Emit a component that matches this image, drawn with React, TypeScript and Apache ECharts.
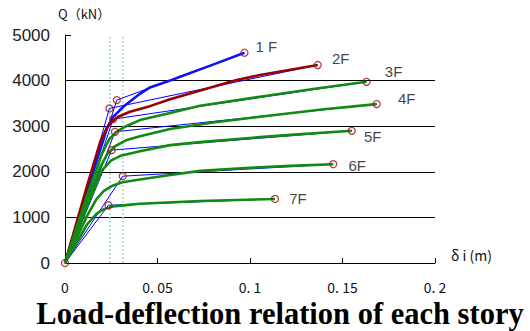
import React, { useEffect, useRef } from "react";
import * as echarts from "echarts";

// ---- data ----
const storyNames = ["1 F", "2F", "3F", "4F", "5F", "6F", "7F"];

const curve1F = [[0, 0], [0.012, 1600], [0.02, 2650], [0.0225, 2950], [0.0261, 3206], [0.0315, 3426], [0.0405, 3710], [0.0459, 3850], [0.0568, 4000], [0.0622, 4084], [0.08, 4350], [0.097, 4611]];
const curve2F = [[0, 0], [0.012, 1700], [0.019, 2650], [0.0225, 2950], [0.0243, 3060], [0.0288, 3206], [0.0351, 3316], [0.0459, 3440], [0.0568, 3590], [0.0928, 4012], [0.1054, 4122], [0.1366, 4341]];
const curve3F = [[0, 0], [0.012, 1480], [0.02, 2400], [0.024, 2720], [0.028, 2880], [0.033, 3000], [0.0405, 3134], [0.0568, 3290], [0.073, 3450], [0.1054, 3645], [0.135, 3820], [0.163, 3973]];
const curve4F = [[0, 0], [0.012, 1350], [0.019, 2100], [0.023, 2400], [0.027, 2560], [0.033, 2690], [0.0405, 2780], [0.0568, 2940], [0.08, 3080], [0.1054, 3206], [0.14, 3370], [0.1685, 3485]];
const curve5F = [[0, 0], [0.012, 1250], [0.02, 2030], [0.025, 2250], [0.03, 2350], [0.0405, 2450], [0.0568, 2585], [0.073, 2650], [0.1054, 2760], [0.122, 2810], [0.155, 2899]];
const curve6F = [[0, 0], [0.012, 1040], [0.017, 1400], [0.021, 1580], [0.026, 1700], [0.031, 1770], [0.0405, 1830], [0.055, 1920], [0.073, 2020], [0.1, 2090], [0.122, 2130], [0.145, 2167]];
const curve7F = [[0, 0], [0.012, 850], [0.017, 1080], [0.021, 1180], [0.026, 1240], [0.033, 1270], [0.0405, 1300], [0.073, 1360], [0.1135, 1405]];

const curves = [curve1F, curve2F, curve3F, curve4F, curve5F, curve6F, curve7F];
const yieldDisp = [0.028, 0.024, 0.026, 0.027, 0.0252, 0.0312, 0.0235];
const yieldLoad = [3573, 3390, 3155, 2877, 2475, 1904, 1267];
const driftLimits = [0.0243, 0.0313];

const xMin = 0, xMax = 0.2, xStep = 0.05;
const yMin = 0, yMax = 5000, yStep = 1000;

const titleText = "Load-deflection relation of each story";
const yName = "Q（kN）";
const xName = "δ i (m)";

// ---- styles ----
const curveColors = ["#1010ff", "#990000", "#108a10", "#108a10", "#108a10", "#108a10", "#108a10"];
const labelOffsets = [[22, -6], [23, -7], [27, -10], [30, -6], [21, 6], [24, 1], [23, 0]];

export default function App() {
  const ref = useRef<HTMLDivElement>(null);

  useEffect(() => {
    document.body.style.margin = "0";
    const chart = echarts.init(ref.current!, null, { renderer: "svg" });

    const driftSeries = driftLimits.map((v, i) => ({
      type: "line",
      name: "drift limit " + (i + 1),
      data: [[v, yMin], [v, yMax]],
      showSymbol: false,
      symbol: "none",
      lineStyle: { color: "#a6d8e0", type: [2, 2], width: 1.5 },
      z: 1,
      silent: true,
    }));

    const thinSeries = curves.map((c, i) => ({
      type: "line",
      name: storyNames[i] + " bilinear",
      data: [[0, 0], [yieldDisp[i], yieldLoad[i]], c[c.length - 1]],
      showSymbol: false,
      symbol: "none",
      lineStyle: { color: "#0000ff", width: 1 },
      z: 2,
      silent: true,
    }));

    const thickSeries = curves.map((c, i) => ({
      type: "line",
      name: storyNames[i],
      data: c,
      showSymbol: false,
      symbol: "none",
      lineStyle: { color: curveColors[i], width: 2.6, join: "round" },
      z: 3,
      silent: true,
    }));

    const markerData: any[] = [{ value: [0, 0] }];
    curves.forEach((c, i) => {
      markerData.push({ value: [yieldDisp[i], yieldLoad[i]] });
      const end = c[c.length - 1];
      markerData.push({
        value: end,
        label: {
          show: true,
          formatter: storyNames[i],
          position: "inside",
          offset: labelOffsets[i],
          fontSize: 15,
          fontFamily: "Liberation Sans",
          color: "#111",
        },
      });
    });

    chart.setOption({
      animation: false,
      grid: { left: 65, right: 95, top: 35, bottom: 68 },
      xAxis: {
        type: "value",
        min: xMin,
        max: xMax,
        interval: xStep,
        axisLine: { show: true, lineStyle: { color: "#000", width: 1 } },
        axisTick: { show: true, inside: true, length: 5, lineStyle: { color: "#000" } },
        axisLabel: {
          margin: 17,
          fontSize: 14,
          fontFamily: "Noto Sans CJK JP",
          color: "#111",
          formatter: (v: number) => {
            const s = String(Number(v.toFixed(2)));
            return s.replace(".", ". ");
          },
        },
        splitLine: { show: false },
      },
      yAxis: {
        type: "value",
        min: yMin,
        max: yMax,
        interval: yStep,
        axisLine: { show: true, lineStyle: { color: "#000", width: 1 } },
        axisTick: { show: true, inside: true, length: 6, lineStyle: { color: "#000" } },
        axisLabel: {
          margin: 15,
          fontSize: 17,
          fontFamily: "Liberation Sans",
          color: "#222",
          formatter: (v: number) => String(v),
        },
        splitLine: {
          show: true,
          showMinLine: false,
          showMaxLine: false,
          lineStyle: { color: "#000", width: 1 },
        },
      },
      series: [
        ...driftSeries,
        ...thinSeries,
        ...thickSeries,
        {
          type: "scatter",
          name: "points",
          data: markerData,
          symbol: "circle",
          symbolSize: 7,
          itemStyle: { color: "rgba(255,255,255,0)", borderColor: "#a01010", borderWidth: 1.3 },
          z: 5,
          silent: true,
        },
      ],
      graphic: [
        {
          type: "text",
          left: 58,
          top: 7,
          style: { text: yName, fontSize: 13, fontFamily: "Noto Sans CJK JP", fill: "#111" },
        },
        {
          type: "text",
          left: 451,
          top: 248,
          style: { text: xName, fontSize: 14, fontFamily: "Noto Sans CJK JP", fill: "#111" },
        },
        {
          type: "text",
          x: 280,
          y: 314,
          style: {
            text: titleText,
            fontSize: 30.5,
            fontWeight: "bold",
            fontFamily: "Liberation Serif",
            fill: "#000",
            align: "center",
            verticalAlign: "middle",
          },
        },
      ],
    });

    return () => chart.dispose();
  }, []);

  return <div ref={ref} style={{ width: 530, height: 331 }} />;
}
